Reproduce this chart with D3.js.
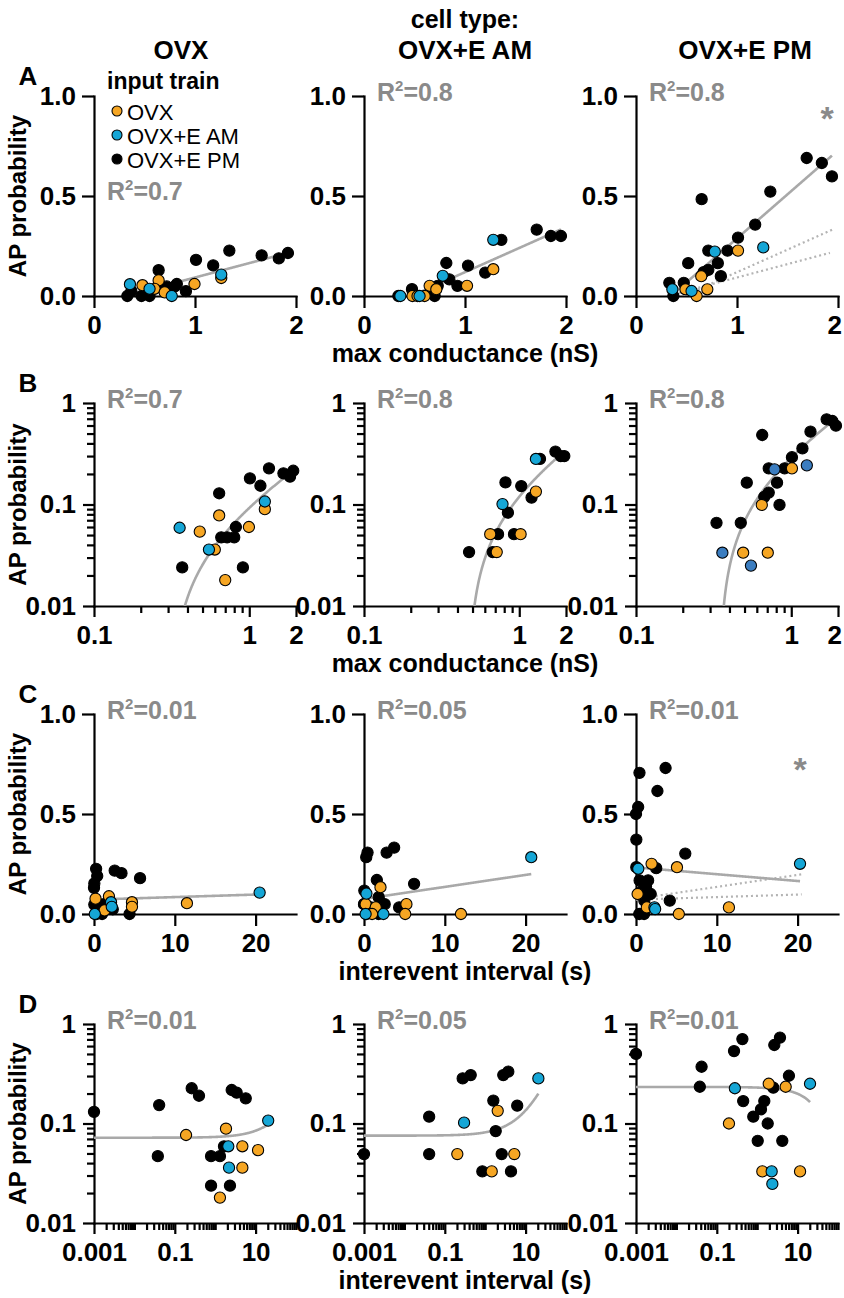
<!DOCTYPE html>
<html>
<head>
<meta charset="utf-8">
<script src="https://cdn.jsdelivr.net/npm/d3@7"></script>
<style>
  body { margin: 0; background: #fff; }
  svg { display: block; }
</style>
</head>
<body>
<svg id="fig" width="844" height="1298"></svg>
<script>
// ---------- data ----------
const colTitles = ["OVX", "OVX+E AM", "OVX+E PM"];
const groupNames = ["OVX", "OVX+E AM", "OVX+E PM"];

// [max conductance (nS), AP probability, input train index]
const condOVX = [
  [1.34,0.227,2],[1.66,0.203,2],[1.92,0.215,2],[1.83,0.188,2],[1.01,0.181,2],[1.18,0.153,2],
  [0.64,0.129,2],[1.26,0.107,1],[1.26,0.09,0],[0.64,0.078,0],[0.356,0.059,1],[0.48,0.054,0],
  [0.82,0.06,2],[0.995,0.06,0],[0.66,0.0475,2],[0.72,0.0475,2],[0.80,0.0475,2],[0.55,0.036,1],
  [0.60,0.036,0],[0.37,0.024,2],[0.91,0.024,2],[0.70,0.018,0],
  [0.33,0,2],[0.47,0,2],[0.55,0,2],[0.77,0,1]
];
const condAM = [
  [1.71,0.332,2],[1.85,0.30,2],[1.95,0.30,2],[1.28,0.281,1],[1.36,0.281,2],[0.815,0.165,2],
  [1.03,0.152,2],[1.28,0.134,0],[1.20,0.117,2],[0.78,0.101,1],[0.845,0.083,2],[0.65,0.051,0],
  [0.73,0.051,2],[0.925,0.051,2],[1.02,0.051,0],[0.475,0.034,2],[0.675,0.034,2],[0.716,0.034,0],
  [0.34,0,2],[0.36,0,1],[0.48,0,0],[0.53,0,0],[0.55,0,1],[0.60,0,0],[0.70,0,2]
];
const condPM = [
  [1.69,0.69,2],[1.84,0.665,2],[1.94,0.598,2],[0.65,0.484,2],[1.33,0.522,2],[1.18,0.357,2],
  [1.01,0.292,2],[0.716,0.227,2],[0.78,0.222,1],[0.906,0.227,2],[1.01,0.227,0],[1.26,0.243,1],
  [0.517,0.164,2],[0.81,0.164,2],[0.716,0.131,2],[0.67,0.119,2],[0.646,0.099,0],[0.84,0.099,2],
  [0.33,0.066,2],[0.473,0.066,2],[0.36,0.0335,1],[0.49,0.0335,0],[0.706,0.0335,0],[0.55,0.025,1],
  [0.37,0,2],[0.60,0,0]
];

// [interevent interval (s), AP probability, input train index]
const intvOVX = [
  [0.001,0.131,2],[0.041,0.153,2],[0.262,0.226,2],[0.397,0.19,2],[2.56,0.217,2],[3.4,0.204,2],
  [5.7,0.179,2],[20.5,0.107,1],[0.19,0.0766,0],[1.85,0.0887,0],[0.038,0.047,2],[0.79,0.047,2],
  [1.31,0.047,2],[1.65,0.059,2],[2.11,0.059,1],[4.7,0.059,0],[11.5,0.054,0],[2.2,0.036,1],
  [4.7,0.036,0],[0.79,0.0237,2],[2.32,0.0237,2],[1.31,0.018,0],
  [0.3,0,2],[1.0,0,2],[4.4,0,2],[0.1,0,1]
];
const intvAM = [
  [0.001,0.0493,2],[0.041,0.117,2],[0.041,0.0493,2],[0.204,0.0493,0],[0.3,0.102,1],[0.277,0.284,2],
  [0.438,0.307,2],[2.8,0.307,2],[3.73,0.332,2],[20.7,0.284,1],[1.59,0.17,2],[2.04,0.134,0],
  [6.2,0.151,2],[1.82,0.084,2],[2.56,0.0493,2],[5.25,0.0493,0],[0.85,0.033,2],[1.45,0.033,0],
  [4.35,0.033,2],
  [0.3,0,2],[1.8,0,2],[0.2,0,1],[2.4,0,1],[1.0,0,0],[5.1,0,0],[12.0,0,0]
];
const intvPM = [
  [0.001,0.5,2],[0.042,0.372,2],[0.038,0.234,2],[0.28,0.226,1],[0.267,0.535,2],[0.43,0.706,2],
  [2.65,0.615,2],[3.66,0.73,2],[6.1,0.302,2],[1.93,0.251,0],[2.5,0.229,2],[5.07,0.234,0],
  [20.3,0.251,1],[0.45,0.168,2],[1.5,0.168,2],[1.24,0.139,2],[0.8,0.117,2],[0.2,0.1,0],
  [1.82,0.1,2],[1.03,0.067,2],[4.18,0.067,2],[1.34,0.033,0],[2.28,0.033,1],[11.5,0.033,0],
  [2.37,0.0247,1],
  [0.4,0,2],[1.0,0,2],[5.3,0,0]
];

// linear fits: conductance y = slope * (x - x0); interval y = intercept + slope * x
const condFitSlope = [0.134, 0.225, 0.44];
const condFitX0 = [0.31, 0.47, 0.345];
const intvFitIntercept = [0.072, 0.0755, 0.233];
const intvFitSlope = [0.00126, 0.006, -0.0034];

const r2Cond = ["0.7", "0.8", "0.8"];
const r2Intv = ["0.01", "0.05", "0.01"];

// axis ticks
const probTicks = [0, 0.5, 1];
const probTickLabels = ["0.0", "0.5", "1.0"];
const condTicks = [0, 1, 2];
const condTickLabels = ["0", "1", "2"];
const intvTicks = [0, 10, 20];
const intvTickLabels = ["0", "10", "20"];
const probLogTicks = [0.01, 0.1, 1];
const probLogTickLabels = ["0.01", "0.1", "1"];
const condLogTicks = [0.1, 1, 2];
const condLogTickLabels = ["0.1", "1", "2"];
const intvLogTicks = [0.001, 0.1, 10];
const intvLogTickLabels = ["0.001", "0.1", "10"];

// ---------- layout & style ----------
const FONT = '"Liberation Sans", Arial, Helvetica, sans-serif';
const groupFill = ["#f6a623", "#15a6d6", "#000000"];
const darkBlue = "#3b7dc0";
const gray = "#8a8a8a";
const fitGray = "#a9a9a9";

const W = 844;
const colX = [94, 364, 636];
const plotW = 202;
const rowTop = [96, 403, 714, 1024];
const rowH = [200, 203, 200, 199];

const svg = d3.select("#fig");
const defs = svg.append("defs");

const condData = [condOVX, condAM, condPM];
const intvData = [intvOVX, intvAM, intvPM];

function logTickValues(lo, hi) {
  const out = [];
  for (let e = Math.floor(Math.log10(lo)); e <= Math.ceil(Math.log10(hi)); e++) {
    for (let m = 1; m < 10; m++) {
      const v = +(m * Math.pow(10, e)).toPrecision(6);
      if (v >= lo * 0.9999 && v <= hi * 1.0001) out.push(v);
    }
  }
  return out;
}
const near = (a, b) => Math.abs(a - b) <= 1e-9 + 1e-6 * Math.abs(b);

function styleAxis(sel, fs) {
  sel.select(".domain").attr("stroke", "#000").attr("stroke-width", 2.2).attr("stroke-linecap", "square");
  sel.selectAll(".tick line").attr("stroke", "#000").attr("stroke-width", 2.2);
  sel.selectAll(".tick text")
    .attr("font-family", FONT).attr("font-weight", "bold")
    .attr("font-size", fs).attr("fill", "#000");
}

// keep tick labels inside the drawing at the right-hand edge
function keepInside(sel) {
  sel.selectAll(".tick text").each(function () {
    const b = this.getBBox();
    const ctm = this.getCTM();
    const right = ctm.e + b.x + b.width;
    if (right > W - 2) d3.select(this).attr("dx", (W - 2 - right).toFixed(1));
  });
}

function r2Label(x, y, value) {
  const t = svg.append("text").attr("x", x).attr("y", y)
    .attr("font-family", FONT).attr("font-weight", "bold").attr("font-size", 25).attr("fill", gray);
  t.append("tspan").text("R");
  t.append("tspan").attr("font-size", 15).attr("dy", -10).text("2");
  t.append("tspan").attr("dy", 10).text("=" + value);
}

function drawPanel(p) {
  const x0 = colX[p.col], top = rowTop[p.row], h = rowH[p.row];
  const xs = (p.xLog ? d3.scaleLog() : d3.scaleLinear()).domain(p.xDomain).range([x0, x0 + plotW]);
  const ys = (p.yLog ? d3.scaleLog() : d3.scaleLinear()).domain(p.yDomain).range([top + h, top]);

  const clipId = "clip-" + p.row + "-" + p.col;
  defs.append("clipPath").attr("id", clipId)
    .append("rect").attr("x", x0).attr("y", top).attr("width", plotW).attr("height", h);

  // y axis
  let yAxis;
  if (p.yLog) {
    yAxis = d3.axisLeft(ys).tickValues(logTickValues(p.yDomain[0], p.yDomain[1]))
      .tickFormat(d => { const i = p.yTicks.findIndex(v => near(d, v)); return i < 0 ? "" : p.yLabels[i]; })
      .tickSizeInner(11).tickSizeOuter(0).tickPadding(7);
  } else {
    yAxis = d3.axisLeft(ys).tickValues(p.yTicks).tickFormat((d, i) => p.yLabels[i])
      .tickSizeInner(12).tickSizeOuter(0).tickPadding(6);
  }
  const gy = svg.append("g").attr("transform", `translate(${x0},0)`).call(yAxis);
  styleAxis(gy, 26);
  if (p.yLog) {
    gy.selectAll(".tick line").attr("x2", d => p.yTicks.some(v => near(d, v)) ? -11 : -7);
  }

  // x axis
  let xAxis;
  if (p.xLog) {
    xAxis = d3.axisBottom(xs).tickValues(logTickValues(p.xDomain[0], p.xDomain[1]))
      .tickFormat(d => { const i = p.xTicks.findIndex(v => near(d, v)); return i < 0 ? "" : p.xLabels[i]; })
      .tickSizeInner(11).tickSizeOuter(0).tickPadding(8.5);
  } else {
    xAxis = d3.axisBottom(xs).tickValues(p.xTicks).tickFormat((d, i) => p.xLabels[i])
      .tickSizeInner(12).tickSizeOuter(0).tickPadding(7.5);
  }
  const gx = svg.append("g").attr("transform", `translate(0,${top + h})`).call(xAxis);
  styleAxis(gx, 26);
  if (p.xLog) {
    gx.selectAll(".tick line").attr("y2", d => p.xTicks.some(v => near(d, v)) ? 11 : 7);
  }
  keepInside(gx);

  // fit lines
  const line = d3.line().x(d => xs(d[0])).y(d => ys(d[1]));
  const sample = (f, lo, hi) => {
    const n = 400, pts = [];
    for (let i = 0; i <= n; i++) {
      const t = i / n;
      const x = p.xLog ? lo * Math.pow(hi / lo, t) : lo + (hi - lo) * t;
      const y = f(x);
      if (p.yLog ? y > 1e-4 : true) pts.push([x, y]);
    }
    return pts;
  };
  const lines = svg.append("g").attr("clip-path", `url(#${clipId})`);
  (p.dotted || []).forEach(fit => {
    lines.append("path").attr("d", line(sample(fit.f, fit.lo, fit.hi)))
      .attr("fill", "none").attr("stroke", "#b4b4b4").attr("stroke-width", 2.2)
      .attr("stroke-dasharray", "2,3");
  });
  lines.append("path").attr("d", line(sample(p.fit.f, p.fit.lo, p.fit.hi)))
    .attr("fill", "none").attr("stroke", fitGray).attr("stroke-width", 2.6);

  // points: black underneath, then orange, then cyan
  const order = [2, 0, 1];
  const pts = p.data.filter(d => !p.yLog || d[1] > 0)
    .slice().sort((a, b) => order.indexOf(a[2]) - order.indexOf(b[2]));
  svg.append("g").selectAll("circle").data(pts).join("circle")
    .attr("cx", d => xs(d[0])).attr("cy", d => ys(d[1])).attr("r", 5.6)
    .attr("fill", d => (d[2] === 1 && p.altBlue) ? darkBlue : groupFill[d[2]])
    .attr("stroke", "#000").attr("stroke-width", 1.1);

  // R squared
  r2Label(x0 + 13, p.r2y !== undefined ? p.r2y : top + 5, p.r2);

  if (p.star) {
    svg.append("text").attr("x", p.star[0]).attr("y", p.star[1]).attr("text-anchor", "middle")
      .attr("font-family", FONT).attr("font-weight", "bold").attr("font-size", 34)
      .attr("fill", gray).text("*");
  }
}

// ---------- panels ----------
const condFit = k => x => condFitSlope[k] * (x - condFitX0[k]);
const intvFit = k => x => intvFitIntercept[k] + intvFitSlope[k] * x;
const condExt = k => d3.extent(condData[k], d => d[0]);
const intvExt = k => d3.extent(intvData[k], d => d[0]);

for (let c = 0; c < 3; c++) {
  // A: linear conductance
  drawPanel({
    row: 0, col: c, xDomain: [0, 2], yDomain: [0, 1],
    xTicks: condTicks, xLabels: condTickLabels, yTicks: probTicks, yLabels: probTickLabels,
    data: condData[c], fit: { f: condFit(c), lo: condExt(c)[0], hi: condExt(c)[1] },
    dotted: c === 2 ? [0, 1].map(k => ({ f: condFit(k), lo: condExt(k)[0], hi: condExt(k)[1] })) : [],
    r2: r2Cond[c], r2y: c === 0 ? 200 : undefined,
    star: c === 2 ? [827, 130] : null
  });
  // B: log conductance
  drawPanel({
    row: 1, col: c, xLog: true, yLog: true, xDomain: [0.1, 2], yDomain: [0.01, 1],
    xTicks: condLogTicks, xLabels: condLogTickLabels, yTicks: probLogTicks, yLabels: probLogTickLabels,
    data: condData[c], fit: { f: condFit(c), lo: condExt(c)[0], hi: condExt(c)[1] },
    r2: r2Cond[c], altBlue: c === 2
  });
  // C: linear interval
  drawPanel({
    row: 2, col: c, xDomain: [0, 25], yDomain: [0, 1],
    xTicks: intvTicks, xLabels: intvTickLabels, yTicks: probTicks, yLabels: probTickLabels,
    data: intvData[c], fit: { f: intvFit(c), lo: intvExt(c)[0], hi: intvExt(c)[1] },
    dotted: c === 2 ? [0, 1].map(k => ({ f: intvFit(k), lo: intvExt(k)[0], hi: intvExt(k)[1] })) : [],
    r2: r2Intv[c], star: c === 2 ? [800, 781] : null
  });
  // D: log interval
  drawPanel({
    row: 3, col: c, xLog: true, yLog: true, xDomain: [0.001, 100], yDomain: [0.01, 1],
    xTicks: intvLogTicks, xLabels: intvLogTickLabels, yTicks: probLogTicks, yLabels: probLogTickLabels,
    data: intvData[c], fit: { f: intvFit(c), lo: intvExt(c)[0], hi: intvExt(c)[1] },
    r2: r2Intv[c]
  });
}

// ---------- titles and labels ----------
const boldText = (x, y, s, fs, anchor) => svg.append("text").attr("x", x).attr("y", y)
  .attr("text-anchor", anchor || "middle").attr("font-family", FONT).attr("font-weight", "bold")
  .attr("font-size", fs).attr("fill", "#000").text(s);

boldText(465, 28, "cell type:", 25);
[181, 465, 745].forEach((x, i) => boldText(x, 59, colTitles[i], 26));

["A", "B", "C", "D"].forEach((s, i) => boldText(28, rowTop[i] - 11, s, 26));

rowTop.forEach((t, i) => {
  svg.append("text").attr("transform", `translate(26,${t + rowH[i] / 2}) rotate(-90)`)
    .attr("text-anchor", "middle").attr("font-family", FONT).attr("font-weight", "bold")
    .attr("font-size", 24).attr("fill", "#000").text("AP probability");
});

const xTitles = ["max conductance (nS)", "max conductance (nS)", "interevent interval (s)", "interevent interval (s)"];
xTitles.forEach((s, i) => boldText(465, rowTop[i] + rowH[i] + 66, s, 25));

// ---------- legend ----------
boldText(107, 89, "input train", 23, "start");
[111, 135, 159].forEach((cy, i) => {
  svg.append("circle").attr("cx", 117).attr("cy", cy).attr("r", 5)
    .attr("fill", groupFill[i]).attr("stroke", "#000").attr("stroke-width", 1.1);
  svg.append("text").attr("x", 127).attr("y", cy + 8.5)
    .attr("font-family", FONT).attr("font-size", 22).attr("fill", "#000").text(groupNames[i]);
});
</script>
</body>
</html>
